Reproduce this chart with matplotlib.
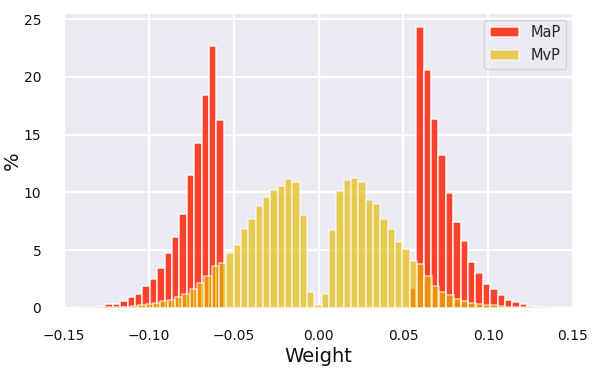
import numpy as np
import matplotlib
matplotlib.use("Agg")
import matplotlib.pyplot as plt
import seaborn as sns

sns.set_style("darkgrid")
plt.rcParams['font.family'] = ['DejaVu Sans']

# ---- data (percent of weights per bin) ----
# MaP histogram: bin index k = -31..31
map_bin_width = 0.004364
map_center0 = -0.00135
map_k = np.arange(-31, 32)
map_left = [0.03, 0.05, 0.14, 0.29, 0.31, 0.60, 0.89, 1.20, 1.86, 2.49,   # k=-31..-22
            3.44, 4.72, 6.16, 8.08, 11.50, 14.26, 18.47, 22.70, 16.30]    # k=-21..-13
map_mid = [0.0] * 25                                                      # k=-12..12
map_right = [1.72, 24.31, 20.59, 16.38, 13.23, 9.94, 7.42, 5.78, 3.98, 3.00,  # k=13..22
             2.06, 1.63, 1.12, 0.69, 0.49, 0.29, 0.17, 0.09, 0.03]           # k=23..31
map_vals = map_left + map_mid + map_right

# MvP histogram: bin index k = -30..30
mvp_bin_width = 0.004323
mvp_center0 = -0.0004
mvp_k = np.arange(-30, 31)
mvp_vals = [
    0.02, 0.03, 0.04, 0.06, 0.09, 0.14, 0.26, 0.29, 0.40, 0.57,      # k=-30..-21
    0.69, 0.97, 1.20, 1.58, 2.15, 2.72, 3.58, 3.87, 4.78, 5.47,      # k=-20..-11
    6.84, 7.70, 8.79, 9.59, 10.22, 10.57, 11.14, 10.88, 8.02, 1.40,  # k=-10..-1
    0.20,                                                            # k=0
    1.15, 6.70, 10.08, 11.08, 11.28, 10.85, 9.36, 9.02, 7.70, 6.79,  # k=1..10
    5.70, 5.07, 4.07, 3.78, 2.78, 1.92, 1.35, 1.12, 0.77, 0.54,      # k=11..20
    0.43, 0.34, 0.26, 0.20, 0.14, 0.10, 0.07, 0.05, 0.03, 0.02,      # k=21..30
]

labels = ["MaP", "MvP"]
x_ticks = [-0.15, -0.10, -0.05, 0.00, 0.05, 0.10, 0.15]
y_ticks = [0, 5, 10, 15, 20, 25]

map_centers = map_center0 + map_k * map_bin_width
map_edges = map_center0 + (np.arange(map_k[0], map_k[-1] + 2) - 0.5) * map_bin_width
mvp_centers = mvp_center0 + mvp_k * mvp_bin_width
mvp_edges = mvp_center0 + (np.arange(mvp_k[0], mvp_k[-1] + 2) - 0.5) * mvp_bin_width

fig = plt.figure(figsize=(6.0, 3.73), dpi=100)
ax = fig.add_axes([0.107, 0.175, 0.848, 0.79])

ax.hist(map_centers, bins=map_edges, weights=map_vals, color="#ff2a10",
        alpha=0.88, edgecolor="white", linewidth=1.1, label=labels[0])
ax.hist(mvp_centers, bins=mvp_edges, weights=mvp_vals, color="#e6b800",
        alpha=0.65, edgecolor="white", linewidth=1.1, label=labels[1])

ax.grid(True, color="white", linewidth=1.6)
ax.set_xlim(-0.15, 0.15)
ax.set_xticks(x_ticks)
ax.set_xticklabels([f"{t:.2f}".replace("-", "\u2212") for t in x_ticks])
ax.set_yticks(y_ticks)
ax.tick_params(axis="x", labelsize=10, colors="#111111", pad=11.5)
ax.tick_params(axis="y", labelsize=10, colors="#111111", pad=13)
ax.set_xlabel("Weight", fontsize=14, labelpad=3, color="#111111")
ax.set_ylabel("%", fontsize=14, labelpad=1, color="#111111")
leg = ax.legend(loc="upper right", fontsize=10.5, borderaxespad=0.45)

fig.savefig("out.png", dpi=100)
